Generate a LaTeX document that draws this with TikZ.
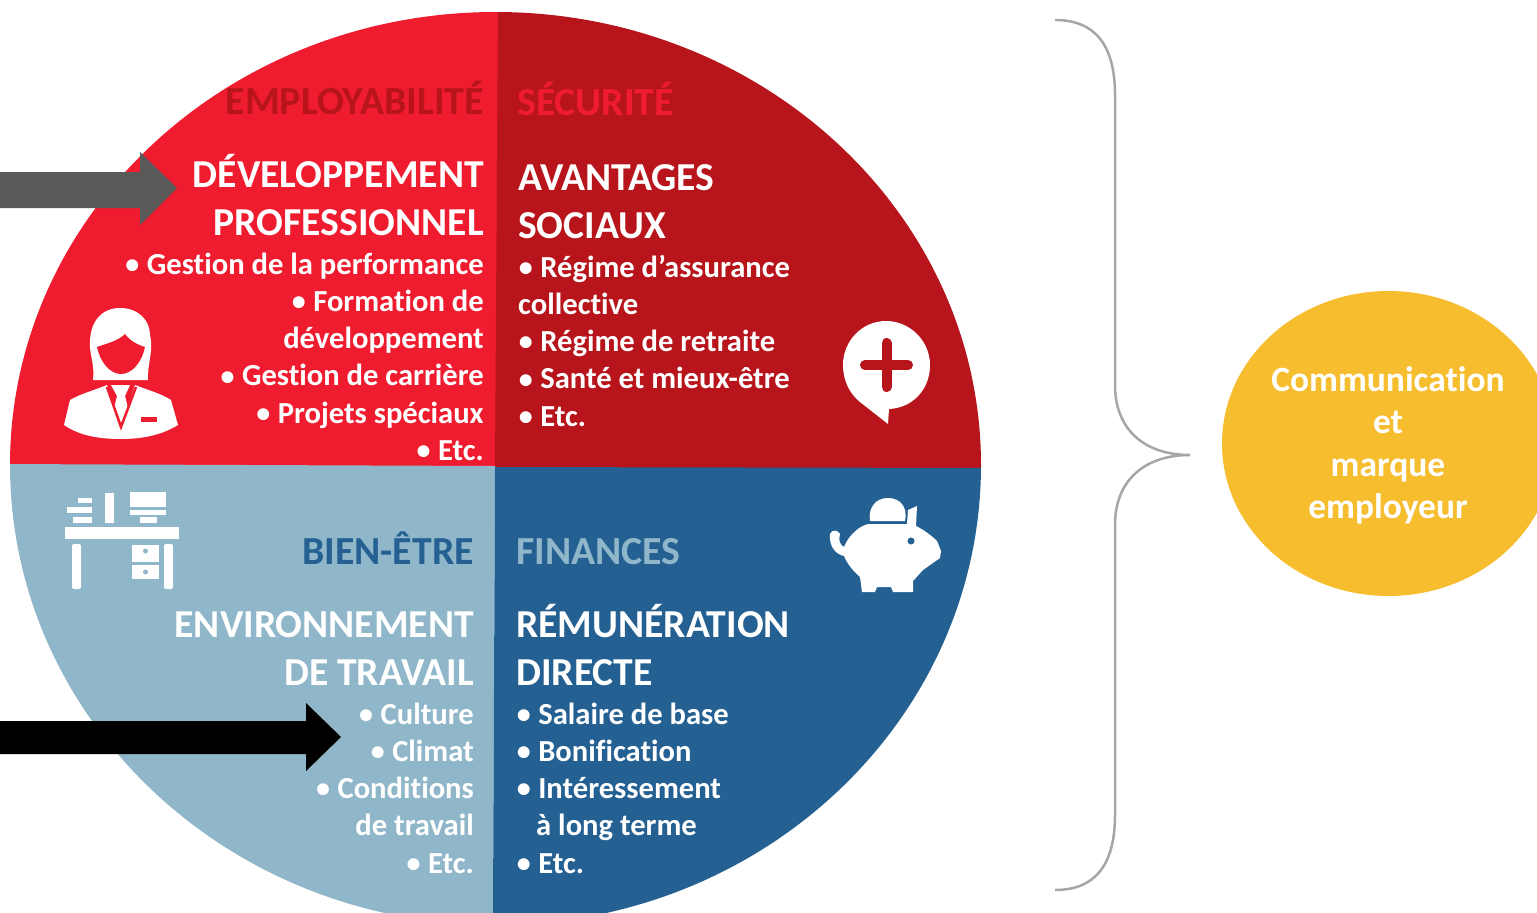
\documentclass[tikz,border=0pt]{standalone}
\usepackage{fontspec}
\setmainfont[Ligatures=NoCommon]{Carlito}
\definecolor{rougeclair}{HTML}{EE1C2E}
\definecolor{rougefonce}{HTML}{B7151B}
\definecolor{bleuclair}{HTML}{90B7C9}
\definecolor{bleufonce}{HTML}{246092}
\definecolor{jaune}{HTML}{F6BD2F}
\definecolor{accolade}{HTML}{A6A6A6}
\definecolor{flechegrise}{HTML}{595959}
\newcommand{\puce}{\makebox[15.2pt][c]{\raisebox{0.8pt}{\fontsize{28}{28}\selectfont •}}\ }
\tikzset{
  titre/.style={inner sep=0pt,font=\bfseries\fontsize{39.8}{39.8}\selectfont},
  entete/.style={inner sep=0pt,text=white,font=\bfseries\fontsize{39.6}{47.6}\selectfont},
  liste/.style={inner sep=0pt,text=white,font=\bfseries\fontsize{30.6}{37.2}\selectfont},
  icone/.style={fill=white,draw=none},
}
\begin{document}
\begin{tikzpicture}[x=1pt,y=-1pt]
  \useasboundingbox (0,0) rectangle (1537,913);
  \begin{scope}
    \clip (0,0) rectangle (1537,913);
    \begin{scope}
      \clip (10,465) arc [start angle=180,end angle=0,x radius=485.5,y radius=-453]
        arc [start angle=0,end angle=-180,x radius=485.5,y radius=-460] -- cycle;
      \fill[rougeclair] (0,0) rectangle (498,470);
      \fill[rougefonce] (498,0) -- (1000,0) -- (1000,470) -- (495,470) -- cycle;
      \fill[bleuclair] (0,464) -- (495,466) -- (493,913) -- (0,913) -- cycle;
      \fill[bleufonce] (495,467) -- (1000,468) -- (1000,913) -- (493,913) -- cycle;
    \end{scope}
    \fill[jaune] (1388.5,443.5) ellipse [x radius=166.5,y radius=152.5];
  \end{scope}
  % fleches
  \fill[flechegrise] (0,172) -- (140,172) -- (140,152) -- (177,188) -- (140,225) -- (140,208) -- (0,208) -- cycle;
  \fill[black] (0,721) -- (306,721) -- (306,703) -- (341,737) -- (306,771) -- (306,754) -- (0,754) -- cycle;
  % accolade
  \coordinate (hautA) at (1055,20);
  \coordinate (pointe) at (1190,455);
  \coordinate (basA) at (1055,890);
  \draw[accolade,line width=2.5pt]
    (hautA) .. controls (1095,20) and (1115,45) .. (1115,95)
    -- (1115,385) .. controls (1115,430) and (1145,455) .. (pointe)
    .. controls (1145,455) and (1115,480) .. (1115,525)
    -- (1115,815) .. controls (1115,865) and (1095,890) .. (basA);
  % quadrant haut gauche
  \node[titre,text=rougefonce,anchor=base east] (employabilite) at (484,114) {EMPLOYABILITÉ};
  \node[entete,anchor=north east,align=right] (developpement) at (484,154) {\strut DÉVELOPPEMENT\\PROFESSIONNEL};
  \node[liste,anchor=north east,align=right] (listeA) at (484,248) {\strut \puce Gestion de la performance\\\puce Formation de\\développement\\\puce Gestion de carrière\\\puce Projets spéciaux\\\puce Etc.};
  % quadrant haut droit
  \node[titre,text=rougeclair,anchor=base west] (securite) at (517,115) {SÉCURITÉ};
  \node[entete,anchor=north west,align=left] (avantages) at (518,157) {\strut AVANTAGES\\SOCIAUX};
  \node[liste,anchor=north west,align=left] (listeB) at (518,251) {\strut \puce Régime d’assurance\\collective\\\puce Régime de retraite\\\puce Santé et mieux-être\\\puce Etc.};
  % quadrant bas gauche
  \node[titre,text=bleufonce,anchor=base east] (bienetre) at (474,564) {BIEN-ÊTRE};
  \node[entete,anchor=north east,align=right] (environnement) at (474,604) {\strut ENVIRONNEMENT\\DE TRAVAIL};
  \node[liste,anchor=north east,align=right] (listeC) at (474,698) {\strut \puce Culture\\\puce Climat\\\puce Conditions\\de travail\\\puce Etc.};
  % quadrant bas droit
  \node[titre,text=bleuclair,anchor=base west] (finances) at (516,564) {FINANCES};
  \node[entete,anchor=north west,align=left] (remuneration) at (516,604) {\strut RÉMUNÉRATION\\DIRECTE};
  \node[liste,anchor=north west,align=left] (listeD) at (516,698) {\strut \puce Salaire de base\\\puce Bonification\\\puce Intéressement\\\hspace*{20pt}à long terme\\\puce Etc.};
  % cercle jaune
  \node[inner sep=0pt,text=white,align=center,font=\bfseries\fontsize{35.5}{42.4}\selectfont] (communication) at (1388,445.5) {Communication\\et\\marque\\employeur};
  % personne
  \fill[icone] (93,380) .. controls (95,365) and (89,352) .. (90,343)
    .. controls (90,320) and (103,308) .. (120,308)
    .. controls (138,308) and (150,320) .. (150,335)
    .. controls (154,350) and (147,365) .. (148,380) -- cycle;
  \fill[rougeclair] (97,347) .. controls (108,343) and (118,341) .. (125,334)
    .. controls (130,341) and (138,345) .. (145,347)
    .. controls (142,362) and (132,374) .. (121,374)
    .. controls (110,374) and (100,362) .. (97,347) -- cycle;
  \fill[icone] (64,425) -- (70,400) .. controls (80,394) and (95,390) .. (107,385)
    -- (121,428) -- (135,385) .. controls (148,390) and (162,394) .. (171,400)
    -- (178,425) .. controls (160,436) and (140,439) .. (121,439)
    .. controls (100,439) and (80,436) .. (64,425) -- cycle;
  \fill[icone] (111,385) -- (130,385) -- (125,396) -- (128,408) -- (121,423) -- (114,408) -- (117,396) -- cycle;
  \draw[rougeclair,line width=2.5pt] (107,387) -- (121,427) -- (136,387);
  \fill[rougeclair] (141,417) rectangle (157,422);
  % bureau
  \fill[icone] (65,527) rectangle (179,539);
  \fill[icone,rounded corners=2pt] (72,544) rectangle (81,589);
  \fill[icone,rounded corners=2pt] (164,544) rectangle (173,589);
  \fill[icone] (132,545) rectangle (159,562);
  \fill[icone] (132,565) rectangle (159,579);
  \fill[bleuclair] (145.5,551) circle [radius=2.5];
  \fill[bleuclair] (145.5,572) circle [radius=2.5];
  \fill[icone] (130,492) rectangle (166,507);
  \fill[icone] (130,510) rectangle (166,515);
  \fill[icone] (140,517) rectangle (157,523);
  \fill[icone] (105,493) rectangle (114,523);
  \fill[icone] (78,498) rectangle (92,503);
  \fill[icone] (67,507) rectangle (92,513);
  \fill[icone] (73,517) rectangle (92,523);
  % bulle
  \fill[icone] (886,321) .. controls (910,321) and (930,341) .. (930,365)
    .. controls (930,390) and (912,408) .. (889,409) -- (888,424) -- (860,402)
    .. controls (849,393) and (843,380) .. (843,365)
    .. controls (843,341) and (862,321) .. (886,321) -- cycle;
  \draw[rougefonce,line width=10pt,line cap=round] (865,365) -- (908,365) (886.5,343) -- (886.5,387);
  % tirelire
  \fill[icone] (870,521) .. controls (868,507) and (876,498) .. (888,498)
    .. controls (900,498) and (908,507) .. (905,521) -- cycle;
  \fill[icone] (868,524) -- (907,524) -- (908,510) -- (917,506) -- (916,526)
    .. controls (926,531) and (934,538) .. (937,541) -- (941,551) -- (940,558)
    -- (923,570) -- (913,581) -- (913,592) -- (893,592) -- (891,587) -- (877,587)
    -- (875,592) -- (862,592) -- (860,577)
    .. controls (852,570) and (847,563) .. (844,556)
    .. controls (835,554) and (829,546) .. (830,534)
    .. controls (832,529) and (838,530) .. (840,534)
    .. controls (838,540) and (840,545) .. (844,547)
    .. controls (848,537) and (857,527) .. (868,524) -- cycle;
  \fill[bleufonce] (911,541) circle [radius=3.5];
\end{tikzpicture}
\end{document}
